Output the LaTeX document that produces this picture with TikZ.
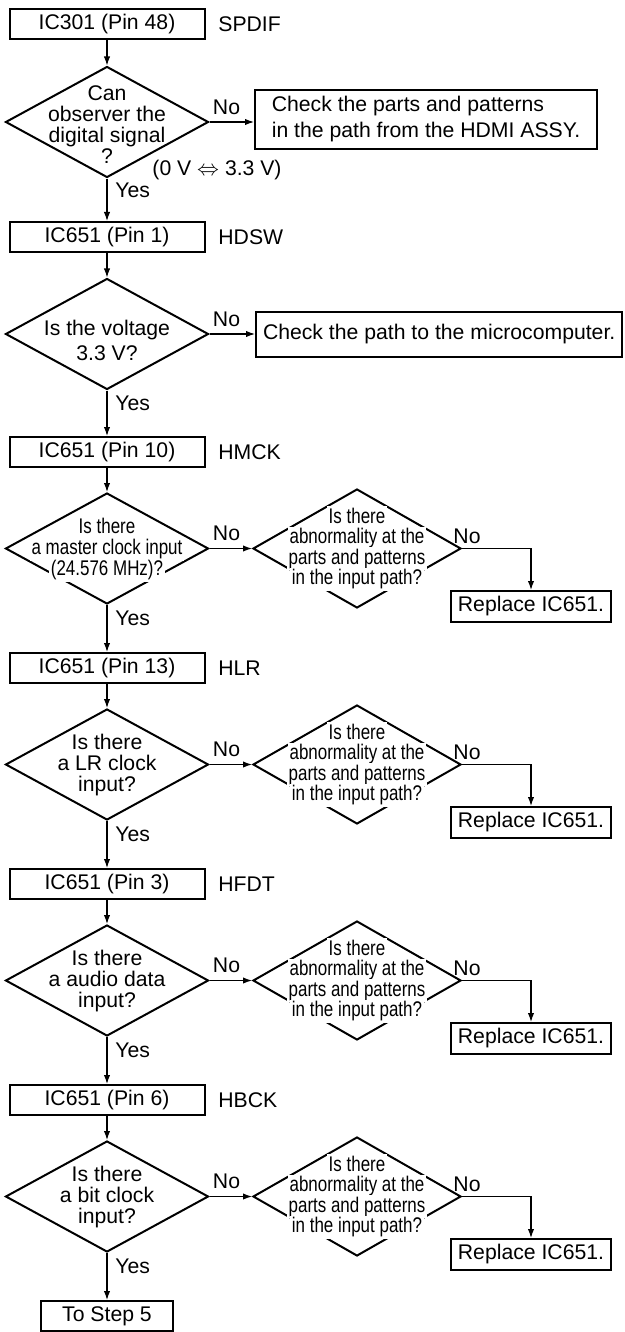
\documentclass[tikz,border=0pt]{standalone}
\usepackage{fontspec}
\setmainfont{Liberation Sans}
\newfontfamily\condfont[FakeStretch=0.8]{Liberation Sans}
\usetikzlibrary{positioning,calc,shapes.geometric,arrows.meta}

\newcommand{\basefont}{\fontsize{10.6}{12.7}\selectfont}
\newcommand{\wl}[1]{{\setlength{\fboxsep}{0.8pt}\colorbox{white}{#1}}}
\lineskiplimit=-20pt

\begin{document}
\begin{tikzpicture}[x=0.5pt, y=-0.5pt,
    every node/.style={font=\basefont},
    box/.style={draw, line width=1pt, minimum height=15pt, inner sep=2pt},
    pinbox/.style={box, minimum width=97.5pt},
    ask/.style={draw, line width=1pt, shape=diamond, inner sep=0pt,
        minimum width=101.5pt, minimum height=55.5pt},
    askb/.style={ask, minimum width=104pt, minimum height=59.5pt},
    qtext/.style={align=center, inner sep=0pt,
        font=\fontsize{10.6}{10.5}\selectfont},
    tag/.style={anchor=west, inner sep=1pt},
    arr/.style={-{Latex[length=4.5pt,width=3.2pt]}, line width=0.6pt}
]
\useasboundingbox (0,0) rectangle (625,1332);

% IC301 (SPDIF)
\node[pinbox] (p1) at (107,24.5) {IC301 (Pin 48)};
\node[tag] (sig1) at (216,24.5) {SPDIF};
\node[ask] (q1) at (107,122) {};
\node[qtext] (q1t) at (107,125) {Can\\observer the\\digital signal\\?};
\node[box, minimum width=171pt, minimum height=29.5pt, align=left,
      font=\fontsize{10.6}{13}\selectfont] (hdmi) at (426,119.5)
      {Check the parts and patterns\\in the path from the HDMI ASSY.};
\node (volt) at (217,170) {(0 V $\Leftrightarrow$ 3.3 V)};
\node (no1) at (226.5,107) {No};
\node[tag] (yes1) at (113,190) {Yes};

\draw[arr] (p1) -- (q1);
\draw[arr] (q1.east) -- (q1.east -| hdmi.west);

% IC651 (HDSW)
\node[pinbox] (p2) at (107,237) {IC651 (Pin 1)};
\node[tag] (sig2) at (216,237) {HDSW};
\node[ask] (q2) at (107,334) {};
\node[qtext, font=\fontsize{10.6}{12.5}\selectfont] (q2t) at (107,340)
      {Is the voltage\\3.3 V?};
\node[box, anchor=west, minimum height=22.5pt, inner xsep=3.5pt] (micro)
      at (255,334.5) {Check the path to the microcomputer.};
\node (no2) at (226.5,319) {No};
\node[tag] (yes2) at (113,403) {Yes};

\draw[arr] (q1) -- (p2);
\draw[arr] (p2) -- (q2);
\draw[arr] (q2.east) -- (q2.east -| micro.west);

% IC651 clock and data checks
\foreach \k/\pin/\sig/\qa/\qb/\qc/\qf [count=\n from 3] in {
    437/10/HMCK/Is there/a master clock input/(24.576 MHz)?/\condfont,
    653/13/HLR/Is there/a LR clock/input?/\relax,
    869/3/HFDT/Is there/a audio data/input?/\relax,
    1085/6/HBCK/Is there/a bit clock/input?/\relax} {
    \pgfmathtruncatemacro{\m}{\n-1}
    \node[pinbox] (p\n) at (107,\k+15) {IC651 (Pin \pin)};
    \node[tag] (sig\n) at (216,\k+15) {\sig};
    \node[ask] (q\n) at (107,\k+111.5) {};
    \node[qtext, font=\fontsize{10.6}{10.5}\selectfont\qf]
        (q\n t) at (107,\k+112.5) {\wl{\qa}\\\wl{\qb}\\\wl{\qc}};
    \node[askb] (r\n) at (357,\k+111.5) {};
    \node[qtext, font=\fontsize{10.6}{10.25}\selectfont\condfont]
        (r\n t) at (357,\k+111.5)
        {\wl{Is there}\\\wl{abnormality at the}\\\wl{parts and patterns}\\\wl{in the input path?}};
    \node[box, inner xsep=3.5pt, minimum height=15.5pt] (x\n) at (531,\k+169.5) {Replace IC651.};
    \node (nol\n) at (226.5,\k+96.5) {No};
    \node (nor\n) at (467,\k+99.5) {No};
    \node[tag] (yes\n) at (113,\k+181) {Yes};

    \draw[arr] (q\m) -- (p\n);
    \draw[arr] (p\n) -- (q\n);
    \draw[arr] (q\n) -- (r\n);
    \draw[arr] (r\n.east) -| (x\n.north);
}

% To Step 5
\node[box, minimum width=66pt, minimum height=15pt] (step5) at (107,1316) {To Step 5};
\draw[arr] (q6) -- (step5);

\end{tikzpicture}
\end{document}
